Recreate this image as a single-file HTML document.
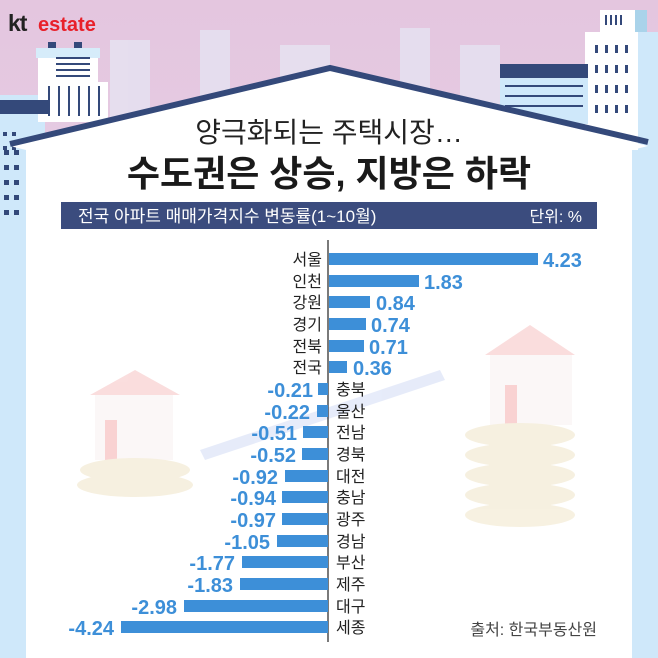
<!DOCTYPE html>
<html><head><meta charset="utf-8"><style>
html,body{margin:0;padding:0;width:658px;height:658px;overflow:hidden;background:#fff}
svg{display:block}
.k{font-family:"Liberation Sans","Noto Sans CJK KR",sans-serif}
.v{font-family:"Liberation Sans Narrow","Liberation Sans",sans-serif;font-weight:bold;fill:#3d8fd8}
</style></head><body>
<svg width="658" height="658" viewBox="0 0 658 658" xmlns="http://www.w3.org/2000/svg">
<defs><linearGradient id="sky" x1="0" y1="0" x2="0" y2="1"><stop offset="0" stop-color="#e4c6df"/><stop offset="1" stop-color="#ead9ec"/></linearGradient></defs>
<rect width="658" height="658" fill="url(#sky)"/>
<!-- faint skyline -->
<g fill="#e6e0f0" opacity="0.9">
<rect x="110" y="40" width="40" height="80"/><rect x="200" y="30" width="30" height="90"/><rect x="280" y="45" width="50" height="60"/><rect x="400" y="28" width="30" height="90"/><rect x="460" y="45" width="40" height="60"/>
</g>
<!-- left buildings -->
<rect x="0" y="95" width="45" height="563" fill="#cfe8fa"/>
<rect x="38" y="48" width="60" height="70" fill="#ffffff"/>
<rect x="36" y="48" width="64" height="10" fill="#d6ecfa"/>
<rect x="48" y="42" width="8" height="6" fill="#34497a"/><rect x="74" y="42" width="8" height="6" fill="#34497a"/>
<g fill="#34497a"><rect x="56" y="57" width="34" height="2"/><rect x="56" y="63" width="34" height="2"/><rect x="56" y="69" width="34" height="2"/><rect x="56" y="75" width="34" height="2"/></g>
<rect x="38" y="82" width="70" height="40" fill="#ffffff"/>
<g fill="#34497a"><rect x="48" y="86" width="2" height="30"/><rect x="58" y="86" width="2" height="30"/><rect x="68" y="86" width="2" height="30"/><rect x="78" y="86" width="2" height="30"/><rect x="88" y="86" width="2" height="30"/><rect x="98" y="86" width="2" height="30"/></g>
<rect x="0" y="100" width="48" height="14" fill="#34497a"/>
<g fill="#34497a"><rect x="3" y="132" width="4" height="4"/><rect x="12" y="132" width="4" height="4"/><rect x="3" y="146" width="4" height="4"/><rect x="12" y="146" width="4" height="4"/><rect x="3" y="160" width="4" height="4"/><rect x="12" y="160" width="4" height="4"/><rect x="3" y="174" width="4" height="4"/><rect x="12" y="174" width="4" height="4"/><rect x="3" y="188" width="4" height="4"/><rect x="12" y="188" width="4" height="4"/><rect x="3" y="202" width="4" height="4"/><rect x="12" y="202" width="4" height="4"/></g>
<!-- right buildings -->
<rect x="600" y="10" width="45" height="30" fill="#ffffff"/><rect x="635" y="10" width="12" height="30" fill="#a9d3ea"/>
<g fill="#34497a"><rect x="605" y="15" width="2" height="10"/><rect x="610" y="15" width="2" height="10"/><rect x="615" y="15" width="2" height="10"/><rect x="620" y="15" width="2" height="10"/></g>
<rect x="585" y="32" width="73" height="626" fill="#ffffff"/>
<rect x="638" y="32" width="20" height="626" fill="#cfe8fa"/>
<g fill="#34497a"><rect x="595" y="45" width="3" height="8"/><rect x="605" y="45" width="3" height="8"/><rect x="615" y="45" width="3" height="8"/><rect x="625" y="45" width="3" height="8"/><rect x="595" y="65" width="3" height="8"/><rect x="605" y="65" width="3" height="8"/><rect x="615" y="65" width="3" height="8"/><rect x="625" y="65" width="3" height="8"/><rect x="595" y="85" width="3" height="8"/><rect x="605" y="85" width="3" height="8"/><rect x="615" y="85" width="3" height="8"/><rect x="625" y="85" width="3" height="8"/><rect x="595" y="105" width="3" height="8"/><rect x="605" y="105" width="3" height="8"/><rect x="615" y="105" width="3" height="8"/><rect x="625" y="105" width="3" height="8"/></g>
<rect x="500" y="64" width="88" height="60" fill="#cfe8fa"/>
<rect x="500" y="64" width="88" height="14" fill="#34497a"/>
<g fill="#34497a"><rect x="505" y="85" width="78" height="2" stroke-dasharray="3 3"/><rect x="505" y="95" width="78" height="2"/><rect x="505" y="105" width="78" height="2"/></g>
<!-- house interior -->
<polygon points="10,146 330,68 648,146 632,150 632,658 26,658 26,150" fill="#ffffff"/>
<rect x="0" y="150" width="26" height="508" fill="#cfe8fa"/>
<rect x="632" y="150" width="26" height="508" fill="#cfe8fa"/>
<g fill="#34497a"><rect x="4" y="150" width="5" height="5"/><rect x="14" y="150" width="5" height="5"/><rect x="4" y="165" width="5" height="5"/><rect x="14" y="165" width="5" height="5"/><rect x="4" y="180" width="5" height="5"/><rect x="14" y="180" width="5" height="5"/><rect x="4" y="195" width="5" height="5"/><rect x="14" y="195" width="5" height="5"/><rect x="4" y="210" width="5" height="5"/><rect x="14" y="210" width="5" height="5"/></g>
<polyline points="10,144 330,68 648,142" fill="none" stroke="#34497a" stroke-width="6"/>
<!-- faint background illustration -->
<g opacity="0.35">
<polygon points="90,395 135,370 180,395" fill="#f2a0a0"/><rect x="95" y="395" width="78" height="65" fill="#f6eaea"/><rect x="105" y="420" width="12" height="40" fill="#f08080"/>
<ellipse cx="135" cy="470" rx="55" ry="12" fill="#e8d6a8"/><ellipse cx="135" cy="485" rx="58" ry="12" fill="#e8d6a8"/>
<polygon points="485,355 530,325 575,355" fill="#f2a0a0"/><rect x="490" y="355" width="82" height="70" fill="#f6eaea"/><rect x="505" y="385" width="12" height="40" fill="#f08080"/>
<g fill="#e8d6a8"><ellipse cx="520" cy="435" rx="55" ry="12"/><ellipse cx="520" cy="455" rx="55" ry="12"/><ellipse cx="520" cy="475" rx="55" ry="12"/><ellipse cx="520" cy="495" rx="55" ry="12"/><ellipse cx="520" cy="515" rx="55" ry="12"/></g>
<polygon points="200,450 440,370 445,380 205,460" fill="#b9c8f0"/>
</g>
<!-- logo -->
<text x="8" y="31" class="k" font-size="23" font-weight="bold" fill="#222" letter-spacing="-1">kt</text>
<text x="38" y="31" class="k" font-size="20" font-weight="bold" fill="#e8202a">estate</text>
<!-- titles -->
<text x="329" y="142" text-anchor="middle" class="k" font-size="28" fill="#222">양극화되는 주택시장…</text>
<text x="329" y="186" text-anchor="middle" class="k" font-size="36" font-weight="bold" fill="#1a1a1a">수도권은 상승, 지방은 하락</text>
<rect x="61" y="202" width="536" height="27" fill="#3b4c7e"/>
<text x="78" y="222" class="k" font-size="17" fill="#ffffff">전국 아파트 매매가격지수 변동률(1~10월)</text>
<text x="582" y="222" text-anchor="end" class="k" font-size="16" fill="#ffffff">단위: %</text>
<!-- axis -->
<line x1="328" y1="240" x2="328" y2="642" stroke="#222" stroke-width="1.2"/>
<g id="bars"></g>
<g fill="#3d8fd8">
<rect x="329" y="253" width="209" height="12"/>
<rect x="329" y="275" width="90" height="12"/>
<rect x="329" y="296" width="41" height="12"/>
<rect x="329" y="318" width="37" height="12"/>
<rect x="329" y="340" width="35" height="12"/>
<rect x="329" y="361" width="18" height="12"/>
<rect x="318" y="383" width="10" height="12"/>
<rect x="317" y="405" width="11" height="12"/>
<rect x="303" y="426" width="25" height="12"/>
<rect x="302" y="448" width="26" height="12"/>
<rect x="285" y="470" width="43" height="12"/>
<rect x="282" y="491" width="46" height="12"/>
<rect x="282" y="513" width="46" height="12"/>
<rect x="277" y="535" width="51" height="12"/>
<rect x="242" y="556" width="86" height="12"/>
<rect x="240" y="578" width="88" height="12"/>
<rect x="184" y="600" width="144" height="12"/>
<rect x="121" y="621" width="207" height="12"/>
</g>
<g class="k" font-size="16" fill="#222" text-anchor="end">
<text x="322" y="265">서울</text><text x="322" y="287">인천</text><text x="322" y="308">강원</text><text x="322" y="330">경기</text><text x="322" y="352">전북</text><text x="322" y="373">전국</text>
</g>
<g class="k" font-size="16" fill="#222">
<text x="336" y="395">충북</text><text x="336" y="417">울산</text><text x="336" y="438">전남</text><text x="336" y="460">경북</text><text x="336" y="482">대전</text><text x="336" y="503">충남</text><text x="336" y="525">광주</text><text x="336" y="547">경남</text><text x="336" y="568">부산</text><text x="336" y="590">제주</text><text x="336" y="612">대구</text><text x="336" y="633">세종</text>
</g>
<g class="v" font-size="20">
<text x="543" y="267">4.23</text><text x="424" y="289">1.83</text><text x="376" y="310">0.84</text><text x="371" y="332">0.74</text><text x="369" y="354">0.71</text><text x="353" y="375">0.36</text>
</g>
<g class="v" font-size="20" text-anchor="end">
<text x="313" y="397">-0.21</text><text x="310" y="419">-0.22</text><text x="297" y="440">-0.51</text><text x="296" y="462">-0.52</text><text x="278" y="484">-0.92</text><text x="276" y="505">-0.94</text><text x="276" y="527">-0.97</text><text x="270" y="549">-1.05</text><text x="235" y="570">-1.77</text><text x="233" y="592">-1.83</text><text x="177" y="614">-2.98</text><text x="114" y="635">-4.24</text>
</g>
<text x="597" y="635" text-anchor="end" class="k" font-size="16" fill="#444">출처: 한국부동산원</text>
</svg>
</body></html>
